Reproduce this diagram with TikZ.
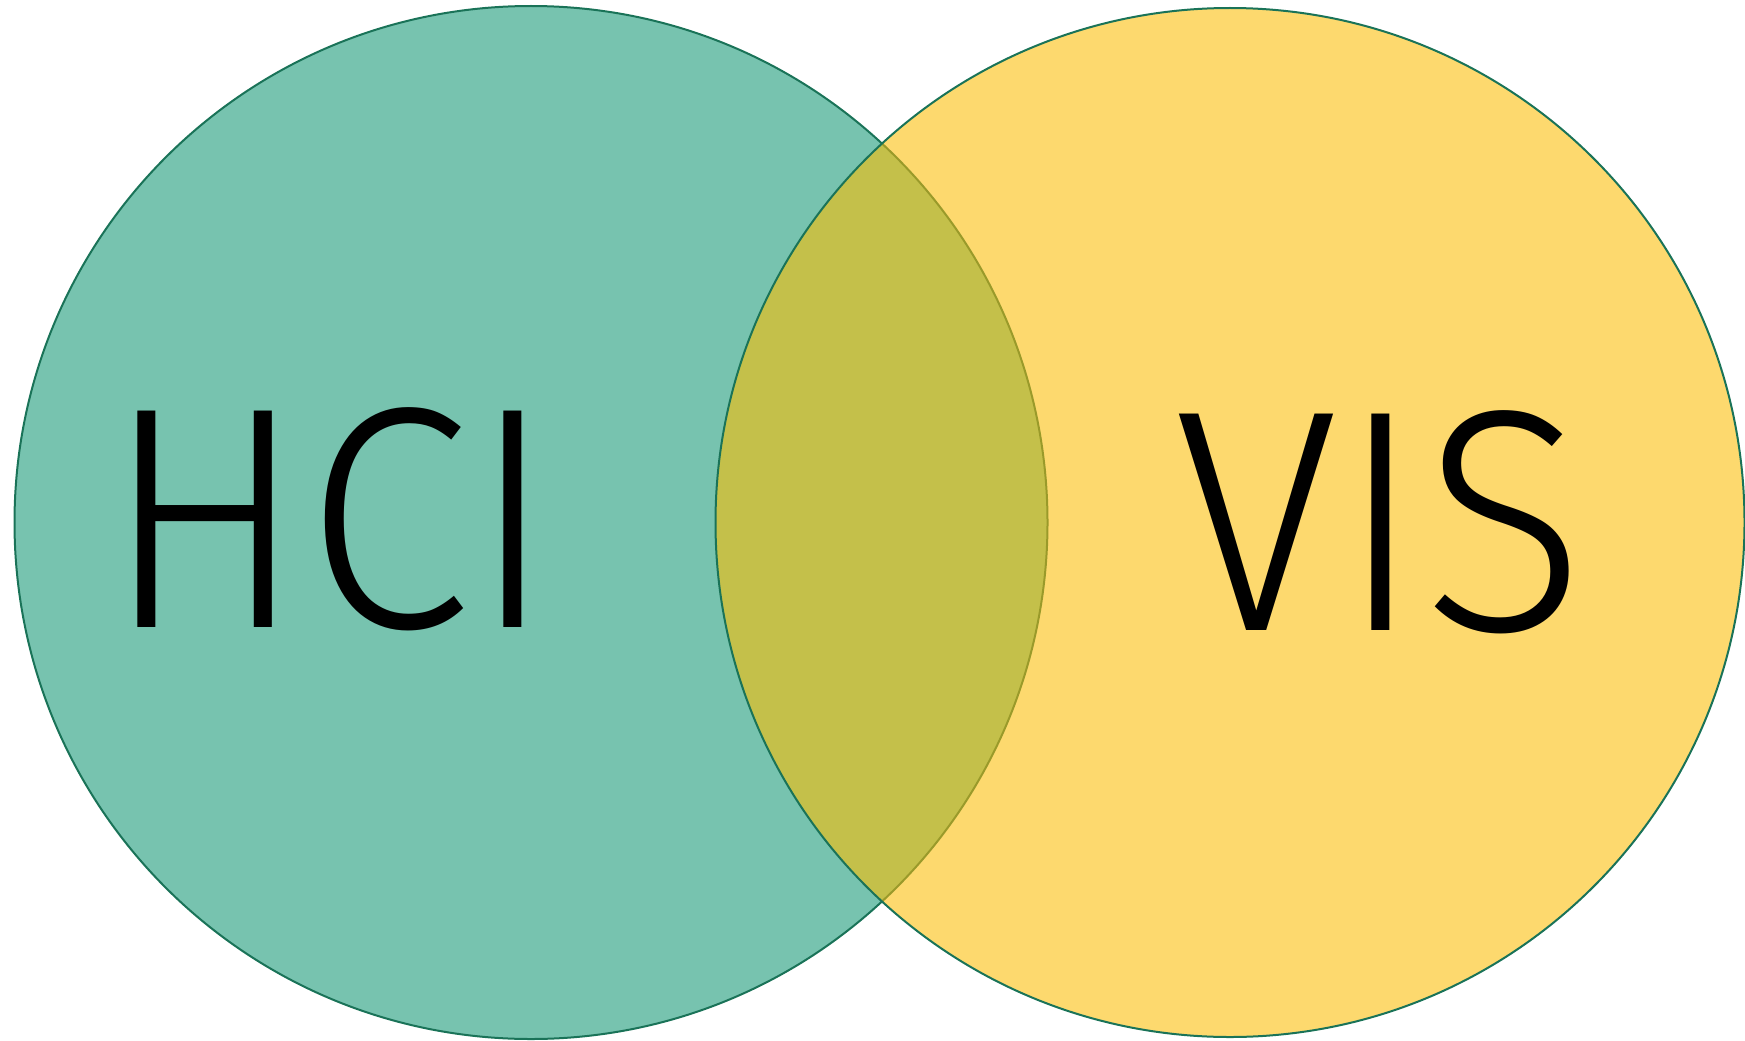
\documentclass[tikz,border=0pt]{standalone}
\usepackage{fontspec}
\IfFontExistsTF{Fira Sans Light}
  {\setmainfont{Fira Sans Light}}
  {\setmainfont{DejaVuSans-ExtraLight.ttf}}
\definecolor{hcifill}{HTML}{77C3AF}
\definecolor{visfill}{HTML}{FDD96E}
\definecolor{bothfill}{HTML}{C4C04A}
\definecolor{rim}{HTML}{1A7358}
\definecolor{olive}{HTML}{9A9A2A}

\begin{document}
\begin{tikzpicture}[x=1pt,y=-1pt,
    setline/.style={draw=rim,line width=2pt},
    setlabel/.style={inner sep=0pt,xscale=0.95,font=\fontsize{316}{316}\selectfont}]
  \useasboundingbox (0,0) rectangle (1745,1041);

  \coordinate (hcic) at (531,522.5);
  \coordinate (visc) at (1230,522.5);

  % left set, then right set on top
  \draw[setline,fill=hcifill] (hcic) circle (516.5pt);
  \fill[visfill] (visc) circle (514.5pt);

  % overlap
  \begin{scope}
    \clip (visc) circle (514.5pt);
    \draw[line width=2pt,draw=olive,fill=bothfill] (hcic) circle (516.5pt);
  \end{scope}
  \draw[setline] (visc) circle (514.5pt);

  \node[setlabel] (hci) at (329.5,519.5) {HCI};
  \node[setlabel] (vis) at (1380,522.5) {VIS};
\end{tikzpicture}
\end{document}
